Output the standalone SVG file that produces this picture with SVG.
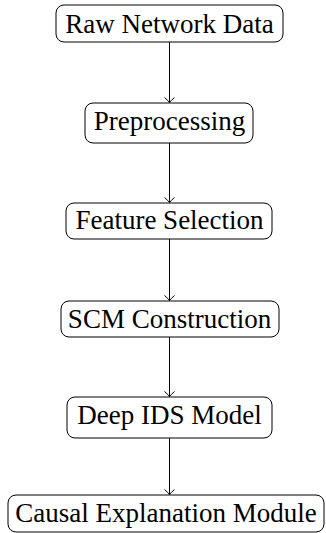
<svg xmlns="http://www.w3.org/2000/svg" width="326" height="533" viewBox="0 0 326 533">
<defs>
<style>
.box{fill:#fff;stroke:#000;stroke-width:1}
.edge{stroke:#000;stroke-width:1;fill:none}
.lbl{font-family:'Liberation Serif','Times New Roman',serif;font-size:27px;fill:#000;text-anchor:middle}
</style>
<marker id="arr" viewBox="-7 -6 8 12" refX="0" refY="0" markerWidth="8" markerHeight="12" markerUnits="userSpaceOnUse" orient="auto" overflow="visible">
<path d="M-5,-5 Q-1.5,-1 0,0 Q-1.5,1 -5,5" fill="none" stroke="#000" stroke-width="1"/>
</marker>
</defs>
<rect width="326" height="533" fill="#fff"/>
<g id="edges">
<line class="edge" x1="169.5" y1="42" x2="169.5" y2="102.5" marker-end="url(#arr)"/>
<line class="edge" x1="169.5" y1="143" x2="169.5" y2="202.5" marker-end="url(#arr)"/>
<line class="edge" x1="169.5" y1="239" x2="169.5" y2="300.5" marker-end="url(#arr)"/>
<line class="edge" x1="169.5" y1="337" x2="169.5" y2="396.5" marker-end="url(#arr)"/>
<line class="edge" x1="169.5" y1="438" x2="169.5" y2="494.5" marker-end="url(#arr)"/>
</g>
<g id="n1"><rect class="box" x="56" y="5" width="227" height="37" rx="8"/><text class="lbl" x="169.5" y="32.5">Raw Network Data</text></g>
<g id="n2"><rect class="box" x="85" y="103" width="168" height="40" rx="8"/><text class="lbl" x="169.5" y="130">Preprocessing</text></g>
<g id="n3"><rect class="box" x="66" y="203" width="206" height="36" rx="8"/><text class="lbl" x="169.5" y="229">Feature Selection</text></g>
<g id="n4"><rect class="box" x="61" y="301" width="218" height="36" rx="8"/><text class="lbl" x="169.5" y="327.5">SCM Construction</text></g>
<g id="n5"><rect class="box" x="67" y="397" width="205" height="41" rx="8"/><text class="lbl" x="169.5" y="424">Deep IDS Model</text></g>
<g id="n6"><rect class="box" x="8" y="495" width="316" height="37" rx="8"/><text class="lbl" x="166" y="521.5">Causal Explanation Module</text></g>
</svg>
